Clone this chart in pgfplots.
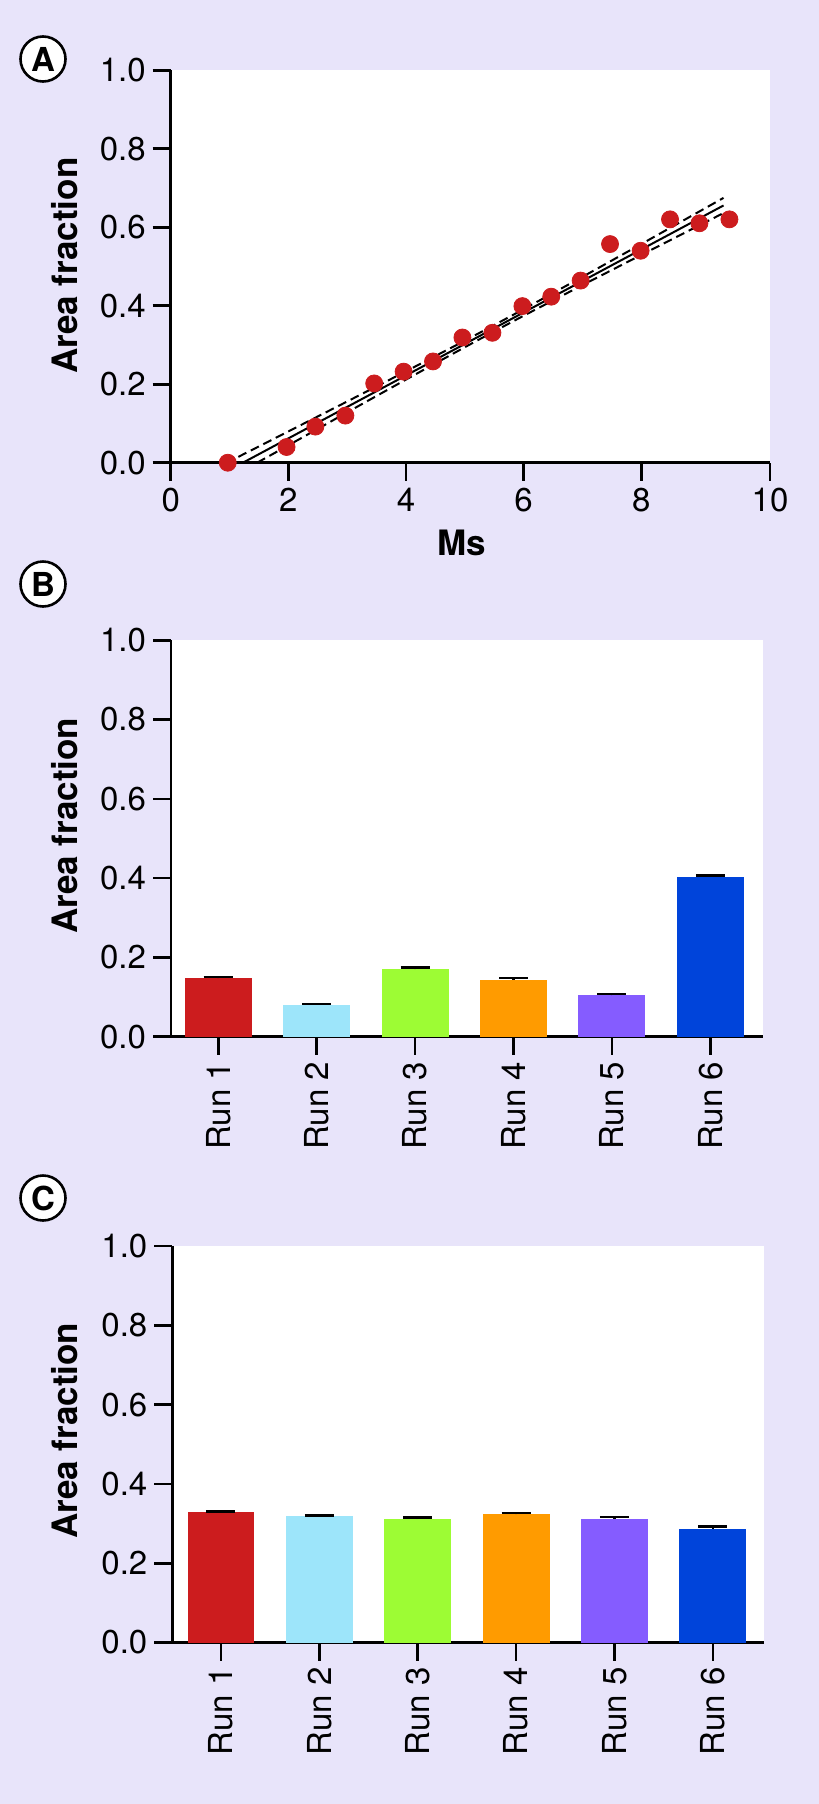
\documentclass[border=0pt]{standalone}
\usepackage{pgfplots}
\pgfplotsset{compat=1.18}
\usepackage{fontspec}
\setmainfont{TeX Gyre Heros}
\setsansfont{TeX Gyre Heros}
\definecolor{bg}{RGB}{232,228,250}
\definecolor{cred}{RGB}{204,28,30}
\definecolor{clblue}{RGB}{157,229,250}
\definecolor{cgreen}{RGB}{157,252,52}
\definecolor{corange}{RGB}{255,155,0}
\definecolor{cpurple}{RGB}{133,92,255}
\definecolor{cblue}{RGB}{0,68,218}
\pgfplotsset{
  myaxis/.style={
    scale only axis,
    axis x line=bottom, axis y line=left,
    axis line style={-, line width=1.3pt, black},
    axis background/.style={fill=white},
    tick align=outside,
    major tick length=9pt,
    tick style={black, line width=1.3pt},
    tick label style={font=\fontsize{16.5}{16.5}\selectfont},
    /pgf/number format/assume math mode=true,
    label style={font=\bfseries\fontsize{17.5}{17.5}\selectfont},
    ymin=0, ymax=1, ytick={0,0.2,0.4,0.6,0.8,1},
    yticklabel style={/pgf/number format/.cd, fixed, fixed zerofill, precision=1},
    ylabel={Area fraction},
    clip=false,
  },
  runaxis/.style={
    myaxis,
    xtick={0,1,2,3,4,5},
    xticklabels={Run 1,Run 2,Run 3,Run 4,Run 5,Run 6},
    xticklabel style={rotate=90, anchor=east},
  },
  barplot/.style={ybar, bar width=0.68, bar shift=0pt, draw=none, fill=#1,
    error bars/.cd, y dir=plus, y explicit,
    error bar style={line width=1.3pt, black},
    error mark options={rotate=90, mark size=7.25pt, line width=1.3pt, black}},
}
\begin{document}
\begin{tikzpicture}
\path[use as bounding box, fill=bg] (0,0) rectangle (409.5pt,-902pt);

% Panel A
\begin{axis}[myaxis,
  at={(85.35pt,-231.35pt)}, anchor=south west,
  width=299.65pt, height=196.25pt,
  xmin=0, xmax=10.19, xtick={0,2,4,6,8,10.19},
  xticklabels={0,2,4,6,8,10},
  xlabel={Ms},
  xlabel style={at={(axis description cs:0.4856,-0.205)}, anchor=center},
  ylabel style={at={(axis description cs:-0.177,0.502)}, anchor=center},
]
\addplot[black, line width=1pt, dash pattern=on 4.5pt off 2.5pt] coordinates {
 (1.15,0.0149) (2,0.0796) (3,0.1559) (4,0.2328) (5,0.3108) (5.5,0.3506)
 (6,0.391) (7,0.4734) (8,0.5569) (9,0.641) (9.4,0.6747)};
\addplot[black, line width=1pt, dash pattern=on 4.5pt off 2.5pt] coordinates {
 (1.47,0) (2,0.0442) (3,0.1283) (4,0.2118) (5,0.2942) (5.5,0.3346)
 (6,0.3744) (7,0.4524) (8,0.5293) (9,0.6056) (9.4,0.6361)};
\addplot[black, line width=1pt] coordinates {(1.228,0) (9.4,0.6554)};
\addplot[only marks, mark=*, mark size=4.25pt, mark options={fill=cred, draw=cred}] coordinates {
 (0.97,0.0) (1.97,0.04) (2.46,0.092) (2.97,0.12) (3.46,0.202) (3.96,0.232) (4.46,0.258)
 (4.96,0.319) (5.47,0.331) (5.98,0.399) (6.47,0.423) (6.97,0.464) (7.47,0.557)
 (7.99,0.54) (8.49,0.62) (8.99,0.61) (9.5,0.62)};
\end{axis}

% Panel B
\begin{axis}[runaxis,
  at={(85.5pt,-518.35pt)}, anchor=south west,
  width=296pt, height=198.25pt,
  xmin=-0.48, xmax=5.535,
  ylabel style={at={(axis description cs:-0.179,0.532)}, anchor=center},
]
\addplot[barplot=cred] coordinates {(0,0.147) +- (0,0.004)};
\addplot[barplot=clblue] coordinates {(1,0.080) +- (0,0.003)};
\addplot[barplot=cgreen] coordinates {(2,0.170) +- (0,0.004)};
\addplot[barplot=corange] coordinates {(3,0.144) +- (0,0.004)};
\addplot[barplot=cpurple] coordinates {(4,0.104) +- (0,0.004)};
\addplot[barplot=cblue] coordinates {(5,0.403) +- (0,0.004)};
\end{axis}

% Panel C
\begin{axis}[runaxis,
  at={(86.2pt,-821.25pt)}, anchor=south west,
  width=295.8pt, height=198.25pt,
  xmin=-0.494, xmax=5.52,
  ylabel style={at={(axis description cs:-0.1815,0.534)}, anchor=center},
]
\addplot[barplot=cred] coordinates {(0,0.328) +- (0,0.003)};
\addplot[barplot=clblue] coordinates {(1,0.318) +- (0,0.003)};
\addplot[barplot=cgreen] coordinates {(2,0.311) +- (0,0.004)};
\addplot[barplot=corange] coordinates {(3,0.323) +- (0,0.004)};
\addplot[barplot=cpurple] coordinates {(4,0.312) +- (0,0.005)};
\addplot[barplot=cblue] coordinates {(5,0.287) +- (0,0.005)};
\end{axis}

\foreach \l/\yy in {A/-29.5pt, B/-292pt, C/-599pt}
  \node[circle, draw=black, line width=1.3pt, fill=white, minimum size=22.5pt,
        inner sep=0pt, font=\bfseries\fontsize{16.5}{16.5}\selectfont] at (21.5pt,\yy) {\l};
\end{tikzpicture}
\end{document}
